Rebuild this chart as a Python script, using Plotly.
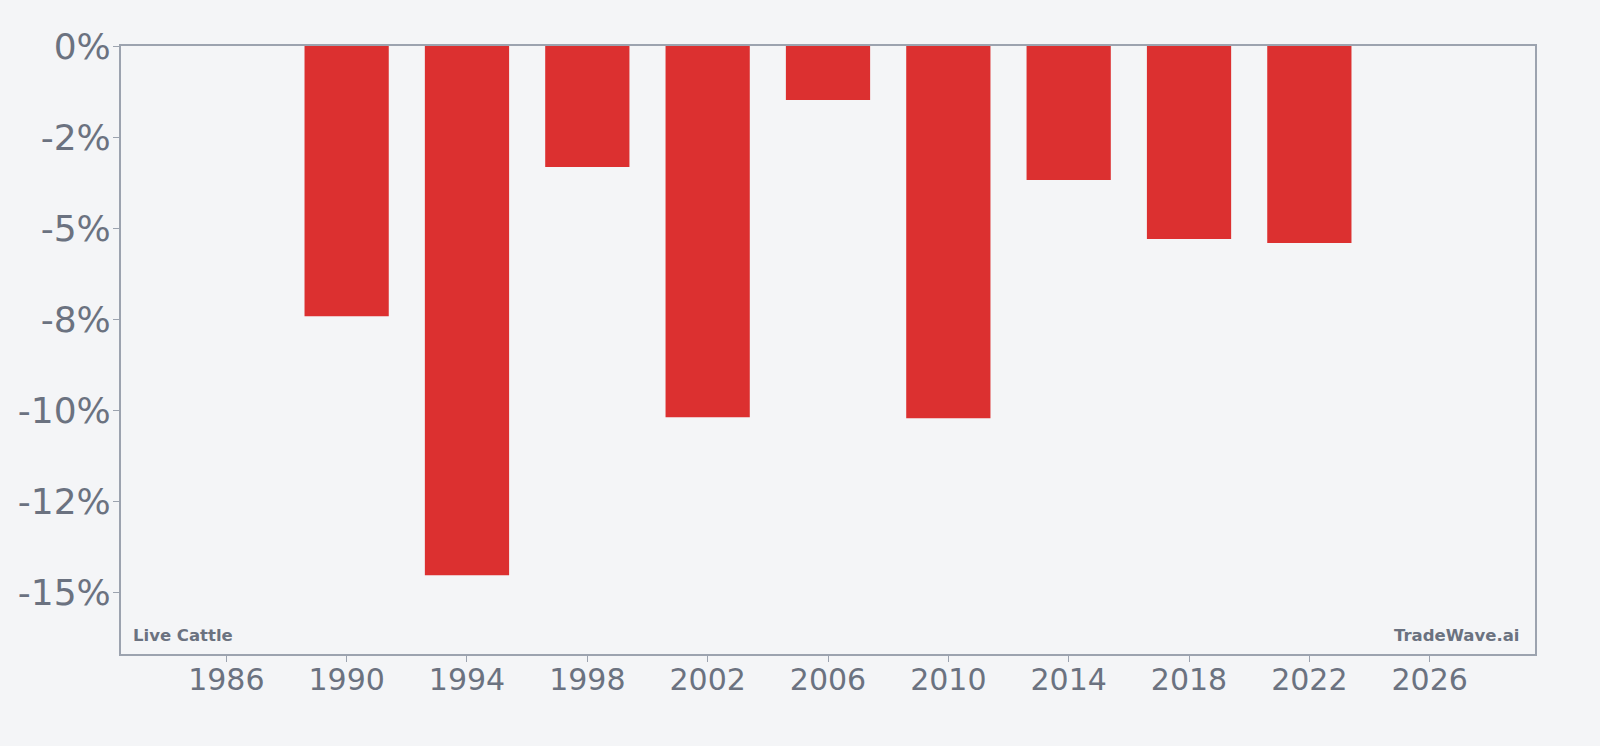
import plotly.graph_objects as go

years = [1990, 1994, 1998, 2002, 2006, 2010, 2014, 2018, 2022]
returns = [-7.42, -14.53, -3.32, -10.19, -1.48, -10.22, -3.68, -5.30, -5.41]
y_tickvals = [0, -2.5, -5, -7.5, -10, -12.5, -15]
y_ticktext = ["0%", "-2%", "-5%", "-8%", "-10%", "-12%", "-15%"]
x_tickvals = [1986, 1990, 1994, 1998, 2002, 2006, 2010, 2014, 2018, 2022, 2026]

text_color = "#6b7280"
axis_color = "#9ca3af"
bg = "#f4f5f7"

fig = go.Figure()
fig.add_trace(go.Bar(x=years, y=returns, width=2.8, marker=dict(color="#dc3030", line=dict(width=0))))

fig.update_layout(
    width=1600, height=746,
    paper_bgcolor=bg, plot_bgcolor=bg,
    margin=dict(l=121, r=65, t=46, b=92),
    showlegend=False,
    font=dict(family="DejaVu Sans", color=text_color),
    xaxis=dict(range=[1982.5, 2029.5], tickvals=x_tickvals, ticktext=[str(v) for v in x_tickvals],
               showgrid=False, zeroline=False, showline=True, linecolor=axis_color, linewidth=2,
               mirror=True, ticks="outside", ticklen=6, tickcolor=axis_color, tickwidth=1,
               ticklabelstandoff=-8,
               tickfont=dict(size=30, color=text_color)),
    yaxis=dict(range=[-16.69, 0], tickvals=y_tickvals, ticktext=y_ticktext,
               showgrid=False, zeroline=False, showline=True, linecolor=axis_color, linewidth=2,
               mirror=True, ticks="outside", ticklen=6, tickcolor=axis_color, tickwidth=1,
               ticklabelstandoff=-5,
               tickfont=dict(size=36, color=text_color)),
    annotations=[
        dict(text="<b>Live Cattle</b>", xref="paper", yref="paper", x=0.007, y=0.012,
             xanchor="left", yanchor="bottom", showarrow=False, font=dict(size=16.5, color=text_color)),
        dict(text="<b>TradeWave.ai</b>", xref="paper", yref="paper", x=0.99, y=0.012,
             xanchor="right", yanchor="bottom", showarrow=False, font=dict(size=16.5, color=text_color)),
    ],
)

fig.write_html("out.html")
